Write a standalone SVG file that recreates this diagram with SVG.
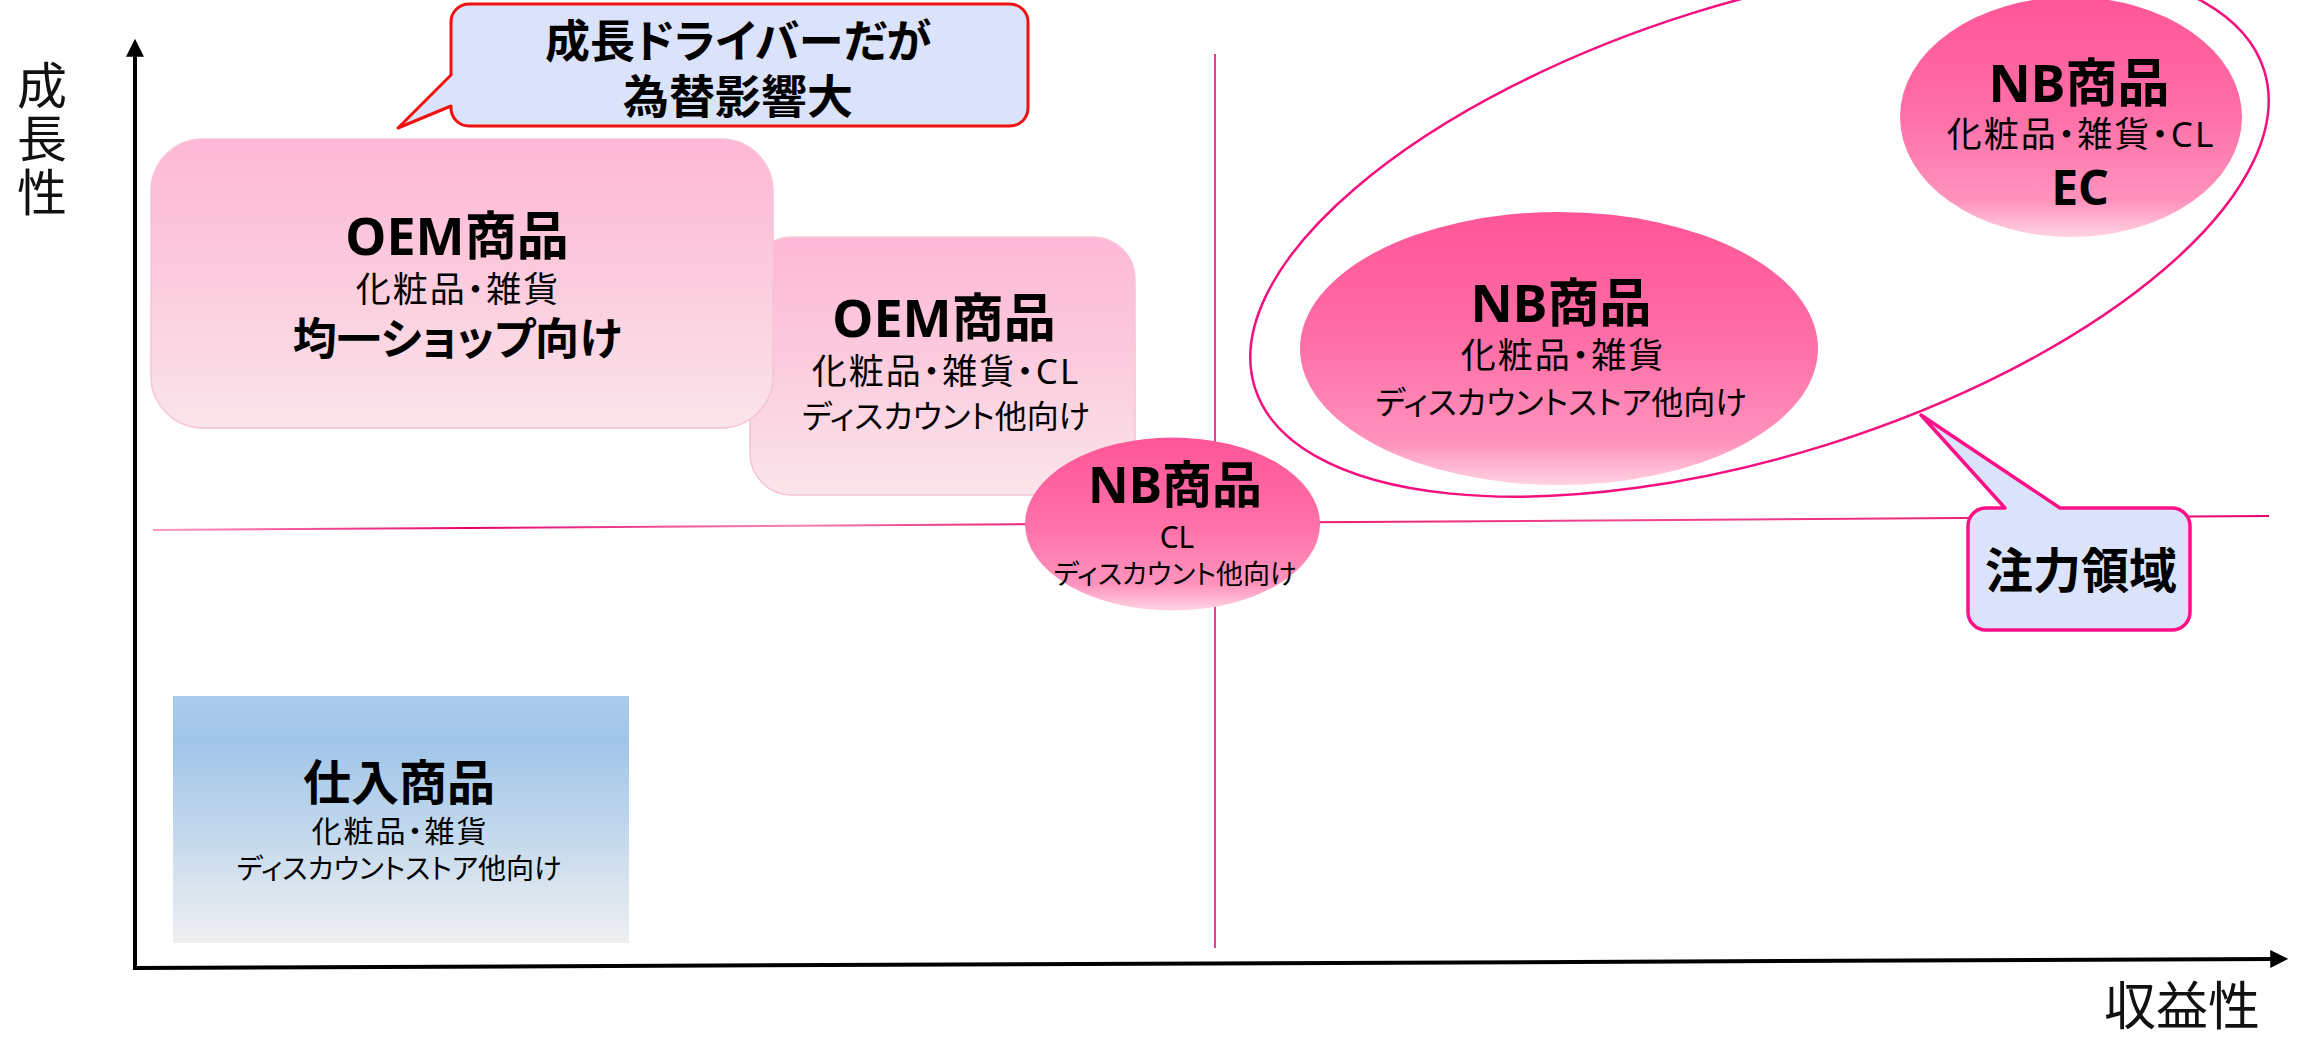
<svg xmlns="http://www.w3.org/2000/svg" width="2305" height="1038" viewBox="0 0 2305 1038">
<style>
.t { font-family: "Noto Sans", "Noto Sans CJK JP", sans-serif; fill: #000; text-anchor: middle; dominant-baseline: central; font-feature-settings: "palt" 1; }
.ls { letter-spacing: 2px; }
.b { font-weight: 700; }
.ax { font-family: "Noto Sans", "Noto Sans CJK JP", sans-serif; fill: #111; font-weight: 400; text-anchor: middle; dominant-baseline: central; }
.oem { fill: url(#gOem); stroke: #f8c3d6; stroke-width: 1.5; }
.nb { fill: url(#gNb); stroke: none; }
.call { fill: #dae3f9; stroke-linejoin: round; }
</style>
<defs>
  <linearGradient id="gOem" x1="0" y1="0" x2="0" y2="1">
    <stop offset="0" stop-color="#fdb8d5"/>
    <stop offset="0.45" stop-color="#fccadd"/>
    <stop offset="1" stop-color="#fae5ea"/>
  </linearGradient>
  <linearGradient id="gNb" x1="0" y1="0" x2="0" y2="1">
    <stop offset="0" stop-color="#ff5596"/>
    <stop offset="0.5" stop-color="#ff70a8"/>
    <stop offset="0.85" stop-color="#ff93bd"/>
    <stop offset="1" stop-color="#ffd3e3"/>
  </linearGradient>
  <linearGradient id="gBlue" x1="0" y1="0" x2="0" y2="1">
    <stop offset="0" stop-color="#abcdeb"/>
    <stop offset="0.18" stop-color="#a0c5e8"/>
    <stop offset="0.55" stop-color="#c2d8ed"/>
    <stop offset="1" stop-color="#eff0f1"/>
  </linearGradient>
  <linearGradient id="gH" gradientUnits="userSpaceOnUse" x1="153" y1="0" x2="2269" y2="0">
    <stop offset="0" stop-color="#ff9cc2"/>
    <stop offset="0.15" stop-color="#e8006e"/>
    <stop offset="0.3" stop-color="#f284b3"/>
    <stop offset="0.45" stop-color="#e8006e"/>
    <stop offset="0.7" stop-color="#f0488e"/>
    <stop offset="1" stop-color="#e8006e"/>
  </linearGradient>
  <marker id="arr" markerUnits="userSpaceOnUse" markerWidth="18" markerHeight="18" viewBox="0 0 16 16" refX="6" refY="8" orient="auto">
    <path d="M0,0 L16,8 L0,16 Z" fill="#000"/>
  </marker>
</defs>

<g id="axes">
  <line x1="135" y1="970" x2="135" y2="50" stroke="#000" stroke-width="4" marker-end="url(#arr)"/>
  <line x1="133" y1="968" x2="2277" y2="959" stroke="#000" stroke-width="4" marker-end="url(#arr)"/>
  <text class="ax" font-size="50"><tspan x="42" y="85">成</tspan><tspan x="42" y="138">長</tspan><tspan x="42" y="192">性</tspan></text>
  <text class="ax" font-size="52" x="2182" y="1004">収益性</text>
</g>

<g id="quadrant-lines">
  <line x1="1215" y1="54" x2="1215" y2="948" stroke="#d9006c" stroke-width="1.5"/>
  <line x1="153" y1="530" x2="2269" y2="516" stroke="url(#gH)" stroke-width="2"/>
</g>

<g id="focus-area">
  <ellipse cx="1759.5" cy="229" rx="529" ry="226" transform="rotate(-17.45 1759.5 229)" fill="none" stroke="#f5107f" stroke-width="2.5"/>
</g>

<g id="oem-discount">
  <rect class="oem" x="750" y="237" width="385" height="258" rx="42"/>
  <text class="t b" font-size="52" x="944" y="316">OEM商品</text>
  <text class="t ls" font-size="35" x="946" y="370">化粧品・雑貨・CL</text>
  <text class="t" font-size="32" x="946" y="415">ディスカウント他向け</text>
</g>

<g id="oem-shop">
  <rect class="oem" x="151" y="139" width="622" height="289" rx="52"/>
  <text class="t b" font-size="52" x="457" y="234">OEM商品</text>
  <text class="t ls" font-size="35" x="458" y="288">化粧品・雑貨</text>
  <text class="t b" font-size="44" x="457" y="338">均一ショップ向け</text>
</g>

<g id="nb-cl">
  <ellipse class="nb" cx="1172.5" cy="524" rx="147.5" ry="86.5"/>
  <text class="t b" font-size="50" x="1175" y="484">NB商品</text>
  <text class="t" font-size="30" x="1177" y="536">CL</text>
  <text class="t" font-size="27" x="1175" y="573">ディスカウント他向け</text>
</g>

<g id="nb-discount">
  <ellipse class="nb" cx="1559" cy="348.5" rx="259" ry="136.5"/>
  <text class="t b" font-size="52" x="1561" y="301">NB商品</text>
  <text class="t ls" font-size="35" x="1563" y="354">化粧品・雑貨</text>
  <text class="t" font-size="32" x="1561" y="401">ディスカウントストア他向け</text>
</g>

<g id="nb-ec">
  <ellipse class="nb" cx="2071" cy="117" rx="171" ry="120"/>
  <text class="t b" font-size="52" x="2079" y="81">NB商品</text>
  <text class="t ls" font-size="35" x="2081" y="133">化粧品・雑貨・CL</text>
  <text class="t b" font-size="48" x="2080" y="186">EC</text>
</g>

<g id="shiire">
  <rect x="173" y="696" width="456" height="247" fill="url(#gBlue)"/>
  <text class="t b" font-size="48" x="399" y="781">仕入商品</text>
  <text class="t ls" font-size="30" x="400" y="830">化粧品・雑貨</text>
  <text class="t" font-size="28" x="399" y="868">ディスカウントストア他向け</text>
</g>

<g id="callout-growth">
  <path class="call" stroke="#f01010" stroke-width="3" d="M469,4 H1010 A18,18 0 0 1 1028,22 V108 A18,18 0 0 1 1010,126 H469 A18,18 0 0 1 451,108 V106 L398,128 L451,75 V22 A18,18 0 0 1 469,4 Z"/>
  <text class="t b" font-size="45" x="738" y="40">成長ドライバーだが</text>
  <text class="t b" font-size="46" x="738" y="95">為替影響大</text>
</g>

<g id="callout-focus">
  <path class="call" stroke="#ff1088" stroke-width="3.5" d="M1986,508 H2005 L1921,415 L2060,508 H2172 A18,18 0 0 1 2190,526 V612 A18,18 0 0 1 2172,630 H1986 A18,18 0 0 1 1968,612 V526 A18,18 0 0 1 1986,508 Z"/>
  <text class="t b" font-size="48" x="2081" y="569">注力領域</text>
</g>
</svg>
